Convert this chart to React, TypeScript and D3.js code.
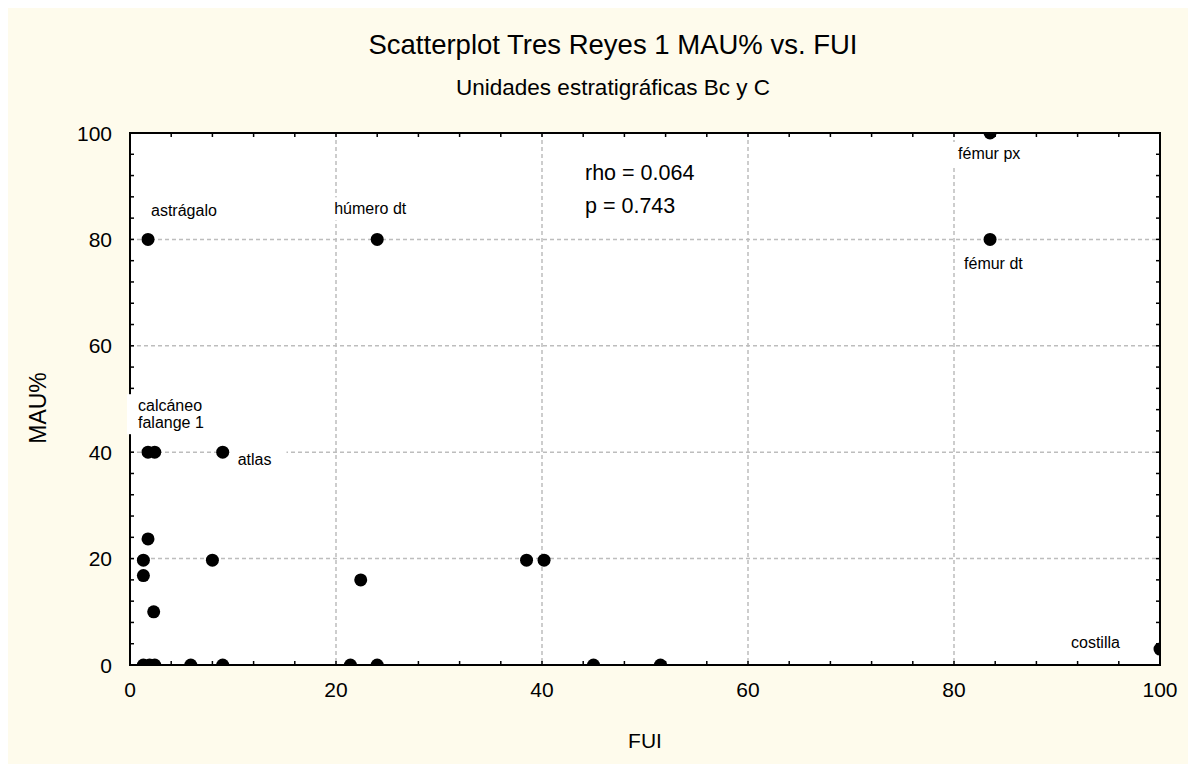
import React, { useEffect, useRef } from "react";
import * as d3 from "d3";

// FUI (x) and MAU% (y) for each skeletal element
const fui = [1.75, 24.0, 83.5, 83.5, 100, 1.75, 2.4, 9.0, 1.75, 1.3, 1.3, 2.3, 8.0, 22.4, 38.5, 40.2, 1.3, 1.9, 2.4, 5.9, 9.0, 21.4, 24.0, 45.0, 51.5];
const mau = [80, 80, 100, 80, 3, 40, 40, 40, 23.7, 19.7, 16.8, 10, 19.7, 16, 19.7, 19.7, 0, 0, 0, 0, 0, 0, 0, 0, 0];

// Named elements: label text lines and the index of the point they belong to
const labelNames = [["astrágalo"], ["húmero dt"], ["fémur px"], ["fémur dt"], ["costilla"], ["calcáneo", "falange 1"], ["atlas"]];
const labelPoint = [0, 1, 2, 3, 4, 5, 7];

const xTicks = [0, 20, 40, 60, 80, 100];
const yTicks = [0, 20, 40, 60, 80, 100];
const statLines = ["rho = 0.064", "p = 0.743"];

const titleText = "Scatterplot Tres Reyes 1 MAU% vs. FUI";
const subtitleText = "Unidades estratigráficas Bc y C";
const xTitle = "FUI";
const yTitle = "MAU%";

// Label placement relative to the point (pixels) and white box padding [left, right]
const labelOffset: [number, number][] = [
  [3, -23], [-43, -25], [-32, 26], [-26, 30], [-89, -1], [-10, -41], [15, 13],
];
const labelPad: [number, number][] = [
  [6, 6], [6, 6], [6, 6], [6, 6], [6, 6], [11, 6], [8, 15],
];

const W = 1188;
const H = 756;
const M = { left: 122, right: 1152, top: 125, bottom: 657 };
const FONT = "'Liberation Sans', Arial, sans-serif";
const BG = "#fefbec";

export default function App() {
  const ref = useRef<SVGSVGElement>(null);

  useEffect(() => {
    document.body.style.overflow = "hidden";
    const svg = d3.select(ref.current);
    svg.selectAll("*").remove();

    const x = d3.scaleLinear().domain([0, 100]).range([M.left, M.right]);
    const y = d3.scaleLinear().domain([0, 100]).range([M.bottom, M.top]);

    svg.append("rect").attr("width", W).attr("height", H).attr("fill", BG);
    svg.append("rect")
      .attr("x", M.left).attr("y", M.top)
      .attr("width", M.right - M.left).attr("height", M.bottom - M.top)
      .attr("fill", "#fff");

    svg.append("defs").append("clipPath").attr("id", "plotClip")
      .append("rect")
      .attr("x", M.left).attr("y", M.top)
      .attr("width", M.right - M.left).attr("height", M.bottom - M.top);

    // dashed grid
    const grid = svg.append("g").attr("stroke", "#bdbdbd").attr("stroke-width", 1.5).attr("stroke-dasharray", "4,3");
    xTicks.slice(1, -1).forEach((t) => {
      grid.append("line").attr("x1", x(t)).attr("x2", x(t)).attr("y1", M.top).attr("y2", M.bottom);
    });
    yTicks.slice(1, -1).forEach((t) => {
      grid.append("line").attr("y1", y(t)).attr("y2", y(t)).attr("x1", M.left).attr("x2", M.right);
    });

    // frame with inward ticks on all sides
    const frame = svg.append("g").attr("stroke", "#000");
    frame.append("rect")
      .attr("x", M.left).attr("y", M.top)
      .attr("width", M.right - M.left).attr("height", M.bottom - M.top)
      .attr("fill", "none").attr("stroke-width", 2);
    const minor = d3.range(0, 101, 4);
    minor.forEach((t) => {
      frame.append("line").attr("x1", x(t)).attr("x2", x(t)).attr("y1", M.bottom).attr("y2", M.bottom - 4).attr("stroke-width", 1.5);
      frame.append("line").attr("x1", x(t)).attr("x2", x(t)).attr("y1", M.top).attr("y2", M.top + 4).attr("stroke-width", 1.5);
      frame.append("line").attr("y1", y(t)).attr("y2", y(t)).attr("x1", M.left).attr("x2", M.left + 4).attr("stroke-width", 1.5);
      frame.append("line").attr("y1", y(t)).attr("y2", y(t)).attr("x1", M.right).attr("x2", M.right - 4).attr("stroke-width", 1.5);
    });

    // points
    svg.append("g").attr("clip-path", "url(#plotClip)")
      .selectAll("circle").data(fui.map((f, i) => [f, mau[i]]))
      .join("circle")
      .attr("cx", (d) => x(d[0])).attr("cy", (d) => y(d[1]))
      .attr("r", 6.5).attr("fill", "#000");

    // point labels on white boxes
    const lg = svg.append("g").attr("font-family", FONT).attr("font-size", 16).attr("fill", "#000");
    labelNames.forEach((lines, i) => {
      const p = labelPoint[i];
      const tx = x(fui[p]) + labelOffset[i][0];
      const ty = y(mau[p]) + labelOffset[i][1];
      const g = lg.append("g");
      const box = g.append("rect").attr("fill", "#fff");
      const t = g.append("text").attr("x", tx).attr("y", ty);
      lines.forEach((ln, k) => {
        t.append("tspan").attr("x", tx).attr("dy", k === 0 ? 0 : 17).text(ln);
      });
      const bb = (t.node() as SVGTextElement).getBBox();
      const [pl, pr] = labelPad[i];
      box.attr("x", bb.x - pl).attr("y", bb.y - 3).attr("width", bb.width + pl + pr).attr("height", bb.height + 6);
    });

    // statistics
    const st = svg.append("g").attr("font-family", FONT).attr("font-size", 21.5);
    statLines.forEach((s, i) => {
      st.append("text").attr("x", 577).attr("y", 172 + i * 33).text(s);
    });

    // tick labels
    const tl = svg.append("g").attr("font-family", FONT).attr("font-size", 21).attr("fill", "#000");
    xTicks.forEach((t) => {
      tl.append("text").attr("x", x(t)).attr("y", 689).attr("text-anchor", "middle").text(t);
    });
    yTicks.forEach((t) => {
      tl.append("text").attr("x", 104).attr("y", y(t)).attr("dy", "0.36em").attr("text-anchor", "end").text(t);
    });

    // titles
    svg.append("text").attr("x", 605).attr("y", 46).attr("text-anchor", "middle")
      .attr("font-family", FONT).attr("font-size", 27.5).text(titleText);
    svg.append("text").attr("x", 605).attr("y", 87).attr("text-anchor", "middle")
      .attr("font-family", FONT).attr("font-size", 22.5).text(subtitleText);
    svg.append("text").attr("x", 637).attr("y", 740).attr("text-anchor", "middle")
      .attr("font-family", FONT).attr("font-size", 21).text(xTitle);
    svg.append("text").attr("transform", `translate(38,400) rotate(-90)`).attr("text-anchor", "middle")
      .attr("font-family", FONT).attr("font-size", 23).text(yTitle);
  }, []);

  return <svg ref={ref} width={W} height={H} style={{ display: "block" }} />;
}
